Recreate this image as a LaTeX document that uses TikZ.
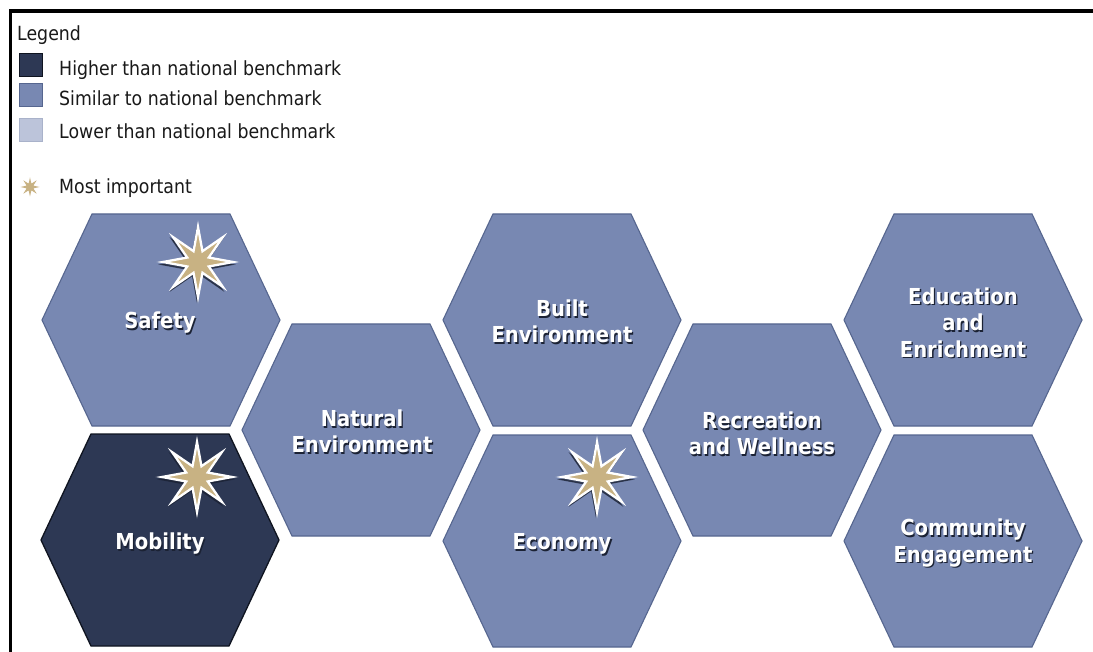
\documentclass[tikz,border=0pt]{standalone}
\usepackage{fontspec}
\setmainfont{DejaVu Sans}[FakeStretch=0.89]
\usetikzlibrary{shapes.geometric}
\definecolor{hexfill}{HTML}{7888B2}
\definecolor{hexedge}{HTML}{56668F}
\definecolor{hexdark}{HTML}{2D3854}
\definecolor{hexdarkedge}{HTML}{0F1420}
\definecolor{lowfill}{HTML}{BCC4DA}
\definecolor{lowedge}{HTML}{A9B2CA}
\definecolor{startan}{HTML}{C8B283}
\definecolor{txtshadow}{HTML}{1B2234}
\newcommand\hexcell[3]{%
  \path[#3] (#1-119,#2) -- (#1-69,#2-106) -- (#1+69,#2-106) -- (#1+119,#2) -- (#1+69,#2+106) -- (#1-69,#2+106) -- cycle;}
\newcommand\hexlabel[4]{%
  \node[labshadow] (#1-sh) at (#2+1.3,#3+1.6) {#4};
  \node[labtext] (#1) at (#2,#3) {#4};}
\newcommand\beststar[3]{%
  \node[starshadow] (#1-sh) at (#2-1,#3+2.5) {};
  \node[starbig] (#1) at (#2,#3) {};}
\begin{document}
\begin{tikzpicture}[x=1pt,y=-1pt,
  hexlight/.style={fill=hexfill,draw=hexedge,line width=1.1pt,line join=miter},
  hexhigh/.style={fill=hexdark,draw=hexdarkedge,line width=1.3pt,line join=miter},
  labtext/.style={text=white,font=\fontsize{22}{26.5}\selectfont\bfseries,align=center,inner sep=0pt},
  labshadow/.style={text=txtshadow,font=\fontsize{22}{26.5}\selectfont\bfseries,align=center,inner sep=0pt},
  starbig/.style={star,star points=8,star point ratio=3,minimum size=70pt,inner sep=0pt,fill=startan,draw=white,line width=2.3pt},
  starshadow/.style={star,star points=8,star point ratio=3,minimum size=72pt,inner sep=0pt,fill=txtshadow,draw=txtshadow,line width=1pt,opacity=0.7},
  legtext/.style={anchor=base west,inner sep=0pt,text=black!90,font=\fontsize{19.5}{23}\selectfont},
  legbox/.style={minimum size=23pt,inner sep=0pt,line width=1.2pt}]
\useasboundingbox (0,0) rectangle (1093,652);
\fill[white] (0,0) rectangle (1093,652);
% frame
\draw[line width=3.8pt,black] (10.5,652) -- (10.5,11) -- (1093,11);
% legend
\node[legtext] (legend) at (17,40.5) {Legend};
\node[legbox,fill=hexdark,draw=hexdarkedge] (boxhigh) at (31,65) {};
\node[legtext] (texthigh) at (59,76) {Higher than national benchmark};
\node[legbox,fill=hexfill,draw=hexedge] (boxsim) at (31,95) {};
\node[legtext] (textsim) at (59,106) {Similar to national benchmark};
\node[legbox,fill=lowfill,draw=lowedge] (boxlow) at (31,130) {};
\node[legtext] (textlow) at (59,139) {Lower than national benchmark};
\node[star,star points=8,star point ratio=2.6,minimum size=19pt,inner sep=0pt,fill=startan] (legstar) at (30,187) {};
\node[legtext] (textimp) at (59,194) {Most important};
% hexagons
\hexcell{161}{320}{hexlight}
\hexcell{160}{540}{hexhigh}
\hexcell{361}{430}{hexlight}
\hexcell{562}{320}{hexlight}
\hexcell{562}{541}{hexlight}
\hexcell{762}{430}{hexlight}
\hexcell{963}{320}{hexlight}
\hexcell{963}{541}{hexlight}
% labels
\hexlabel{safety}{160}{323}{Safety}
\hexlabel{mobility}{160}{544}{Mobility}
\hexlabel{natural}{362}{431.5}{Natural\\Environment}
\hexlabel{built}{562}{321.5}{Built\\Environment}
\hexlabel{economy}{562}{544}{Economy}
\hexlabel{recreation}{762}{433.5}{Recreation\\and Wellness}
\hexlabel{education}{963}{322.5}{Education\\and\\Enrichment}
\hexlabel{community}{963}{543}{Community\\Engagement}
% stars
\beststar{starsafety}{198}{262}
\beststar{starmobility}{197}{477}
\beststar{stareconomy}{597}{477}
\end{tikzpicture}
\end{document}
